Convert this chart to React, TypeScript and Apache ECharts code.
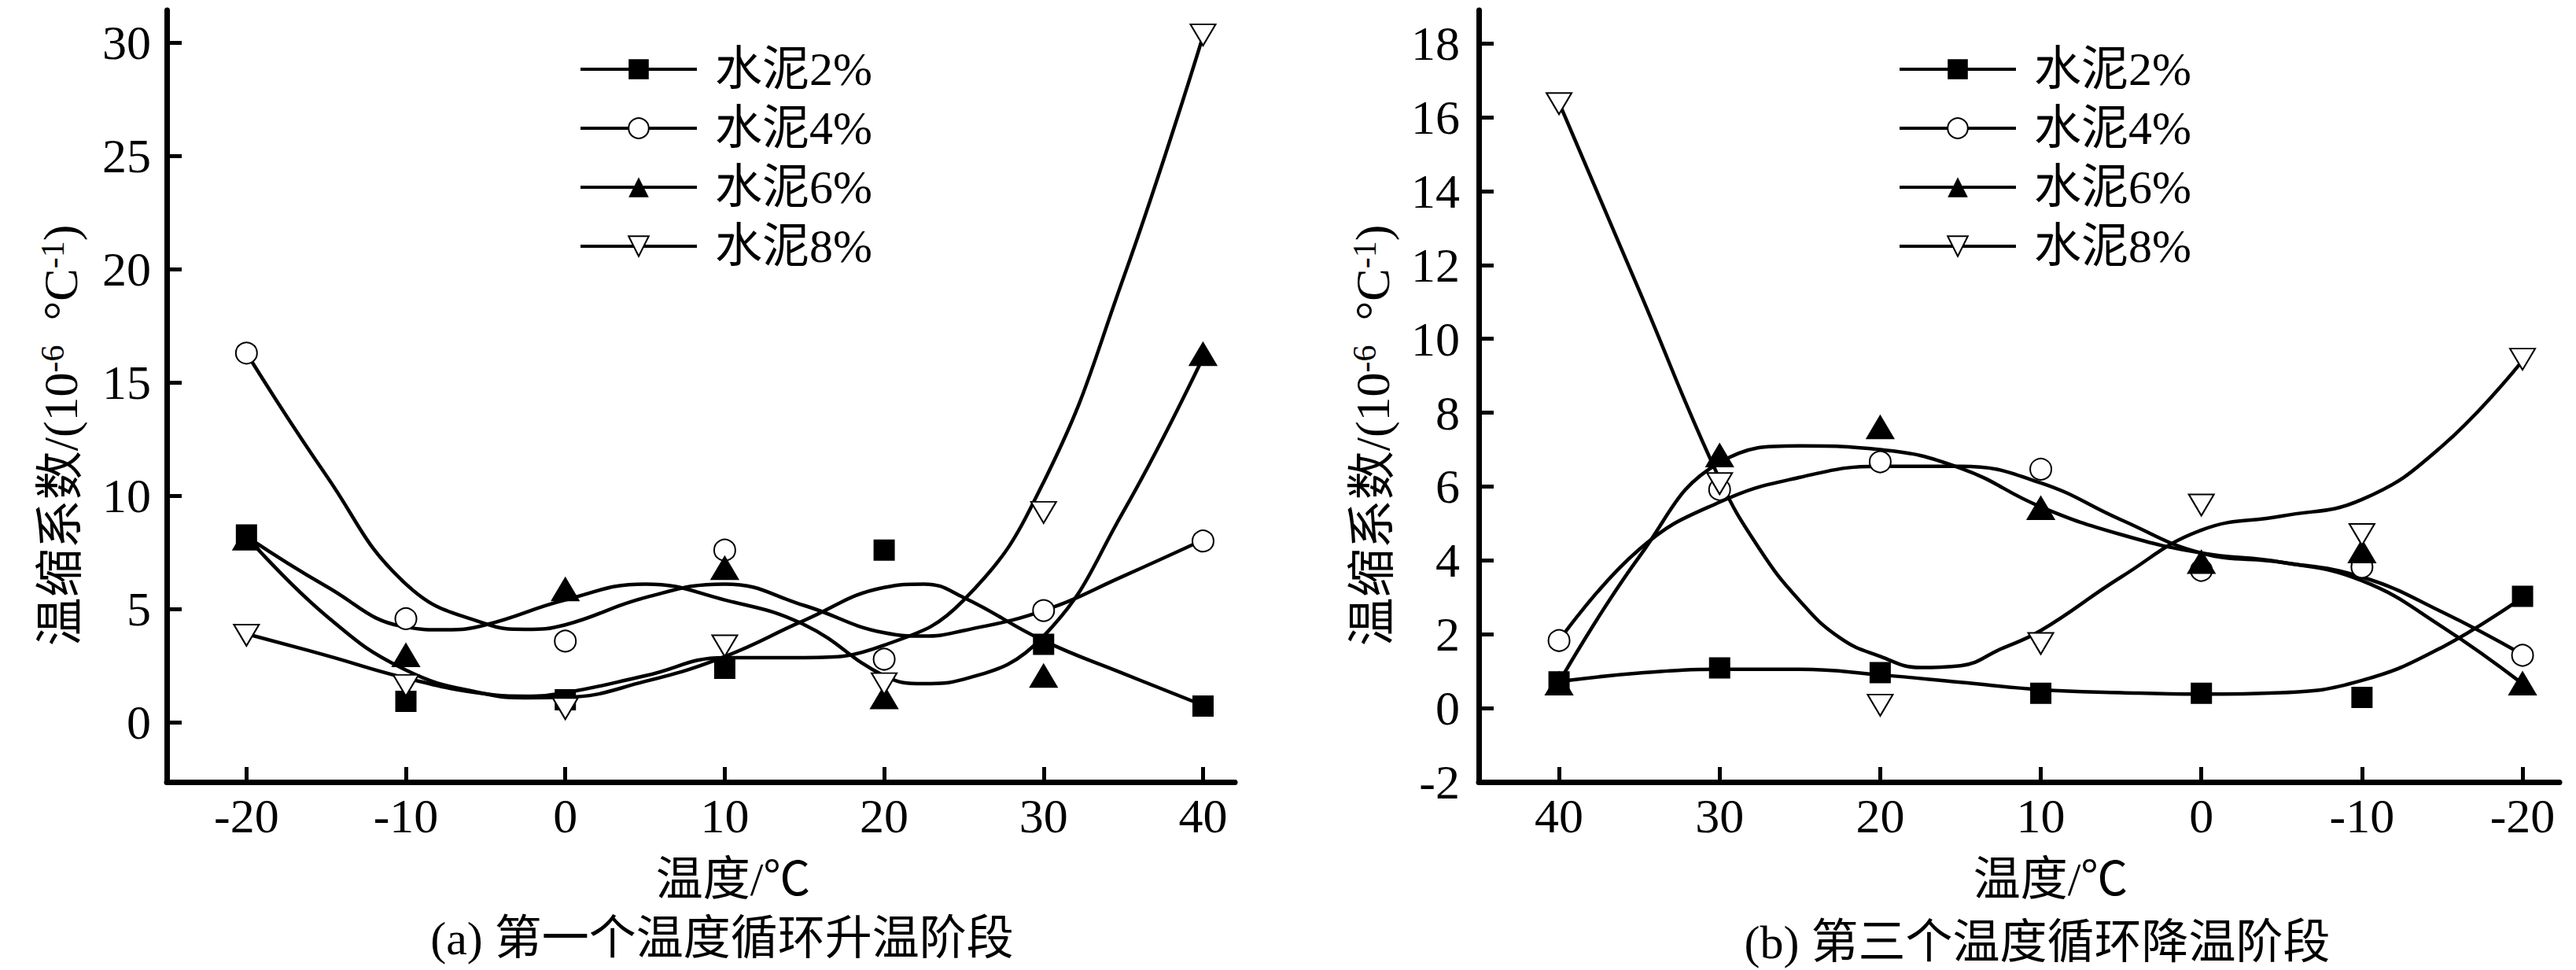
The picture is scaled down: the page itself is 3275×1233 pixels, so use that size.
import React, { useEffect, useRef } from 'react';
import * as echarts from 'echarts';

// ---------- Panel (a): first cycle, heating ----------
const tempsA = [-20, -10, 0, 10, 20, 30, 40];
const a2 = [8.27, 0.92, 0.99, 2.38, 7.6, 3.44, 0.71];
const a4 = [16.3, 4.57, 3.58, 7.6, 2.78, 4.93, 8.0];
const a6 = [8.1, 2.95, 5.86, 6.8, 1.09, 2.04, 16.25];
const a8 = [3.84, 1.62, 0.6, 3.37, 1.7, 9.26, 30.35];

// fitted curves
const fitXA2 = [-20, -15, -10, -5, -2.5, 0, 5, 10, 15, 20, 22.5, 25, 30, 35, 40];
const fitA2 = [8.2, 4.7, 2.3, 1.25, 1.08, 1.1, 1.8, 2.9, 4.5, 5.95, 6.1, 5.5, 3.6, 2.15, 0.75];
const fitXA4 = [-20, -15, -10, -5, -2.5, 0, 5, 10, 15, 20, 22.5, 25, 30, 35, 40];
const fitA4 = [16.3, 10.9, 6.1, 4.35, 4.1, 4.3, 5.5, 6.1, 5.15, 3.95, 3.8, 4.05, 4.93, 6.45, 8.05];
const fitXA6 = [-20, -15, -10, -7.5, -5, 0, 5, 10, 15, 20, 22.5, 25, 30, 35, 40];
const fitA6 = [8.2, 6.0, 4.2, 4.08, 4.3, 5.4, 6.1, 5.4, 4.3, 2.05, 1.7, 1.9, 3.8, 9.3, 16.1];
const fitXA8 = [-20, -15, -10, -5, -2.5, 0, 5, 10, 15, 20, 25, 30, 35, 40];
const fitA8 = [3.9, 2.95, 1.95, 1.25, 1.15, 1.3, 2.05, 2.85, 2.85, 3.4, 5.4, 10.6, 19.6, 30.3];

// ---------- Panel (b): third cycle, cooling ----------
const tempsB = [40, 30, 20, 10, 0, -10, -20];
const b2 = [0.71, 1.09, 0.96, 0.4, 0.4, 0.29, 3.03];
const b4 = [1.83, 5.92, 6.67, 6.47, 3.73, 3.82, 1.43];
const b6 = [0.66, 6.84, 7.6, 5.41, 3.95, 4.24, 0.66];
const b8 = [16.37, 6.08, 0.08, 1.75, 5.5, 4.7, 9.45];

const fitXB = [40, 35, 30, 25, 20, 15, 10, 5, 0, -5, -10, -15, -20];
const fitB2 = [0.72, 0.95, 1.05, 1.05, 0.9, 0.7, 0.5, 0.42, 0.38, 0.42, 0.75, 1.65, 3.0];
const fitB4 = [1.83, 4.3, 5.58, 6.25, 6.55, 6.55, 6.1, 5.1, 4.2, 3.95, 3.55, 2.6, 1.45];
const fitB6 = [0.7, 4.1, 6.65, 7.1, 7.0, 6.5, 5.45, 4.7, 4.2, 3.95, 3.45, 2.2, 0.66];
const fitXB8 = [40, 35, 30, 27.5, 25, 22.5, 20, 17.5, 15, 12.5, 10, 5, 0, -5, -10, -15, -20];
const fitB8 = [16.4, 11.3, 6.2, 4.3, 2.9, 1.9, 1.4, 1.1, 1.15, 1.6, 2.1, 3.55, 4.82, 5.2, 5.65, 7.1, 9.41];

// ---------- labels / ticks ----------
const seriesNames = ['水泥2%', '水泥4%', '水泥6%', '水泥8%'];
const xTicksA = [-20, -10, 0, 10, 20, 30, 40];
const yTicksA = [0, 5, 10, 15, 20, 25, 30];
const xTicksB = [40, 30, 20, 10, 0, -10, -20];
const yTicksB = [-2, 0, 2, 4, 6, 8, 10, 12, 14, 16, 18];
const xNameText = '温度/℃';
const yNameText = '温缩系数/(10{sup|-6}  °C{sup|-1})';
const captionA = '(a) 第一个温度循环升温阶段';
const captionB = '(b) 第三个温度循环降温阶段';

const FONT = 'Liberation Serif, Times New Roman, Noto Sans CJK SC, serif';

const zip = (xs: number[], ys: number[]) => xs.map((x, i) => [x, ys[i]]);

const markerSpecs = [
  { symbol: 'rect', size: 24 as any, rotate: 0 },
  { symbol: 'emptyCircle', size: 27 as any, rotate: 0 },
  { symbol: 'triangle', size: [32, 27] as any, rotate: 0 },
  { symbol: 'emptyTriangle', size: [32, 27] as any, rotate: 180 },
];

function buildOption() {
  const panels = [
    {
      xs: tempsA,
      pts: [a2, a4, a6, a8],
      fits: [
        [fitXA2, fitA2],
        [fitXA4, fitA4],
        [fitXA6, fitA6],
        [fitXA8, fitA8],
      ],
    },
    {
      xs: tempsB,
      pts: [b2, b4, b6, b8],
      fits: [
        [fitXB, fitB2],
        [fitXB, fitB4],
        [fitXB, fitB6],
        [fitXB8, fitB8],
      ],
    },
  ];

  const series: any[] = [];
  panels.forEach((p, pi) => {
    markerSpecs.forEach((m, si) => {
      series.push({
        type: 'line',
        name: seriesNames[si],
        xAxisIndex: pi,
        yAxisIndex: pi,
        data: zip(p.fits[si][0], p.fits[si][1]),
        smooth: 0.45,
        showSymbol: false,
        symbol: m.symbol,
        symbolRotate: m.rotate,
        lineStyle: { color: '#000', width: 4.5 },
        itemStyle: { color: '#000' },
        z: 2,
        silent: true,
      });
    });
  });
  panels.forEach((p, pi) => {
    markerSpecs.forEach((m, si) => {
      series.push({
        type: 'scatter',
        name: seriesNames[si],
        xAxisIndex: pi,
        yAxisIndex: pi,
        data: zip(p.xs, p.pts[si]),
        symbol: m.symbol,
        symbolSize: m.size,
        symbolRotate: m.rotate,
        itemStyle: { color: '#000', borderColor: '#000', borderWidth: 3, opacity: 1 },
        z: 3,
        silent: true,
      });
    });
  });

  const axisLine = { show: true, onZero: false, lineStyle: { color: '#000', width: 7 } };
  const axisTick = { show: true, inside: true, length: 19, lineStyle: { color: '#000', width: 5 } };
  const labelStyle = { fontFamily: FONT, fontSize: 62, color: '#000' };

  const xAxisCommon = (ticks: number[], min: number, max: number, inverse: boolean, gridIndex: number, shift: number) => ({
    type: 'value',
    gridIndex,
    min,
    max,
    inverse,
    splitNumber: 6,
    axisLine,
    axisTick: { ...axisTick, customValues: ticks },
    axisLabel: { ...labelStyle, margin: 12, customValues: ticks },
    splitLine: { show: false },
    name: xNameText,
    nameLocation: 'middle',
    nameGap: 94,
    nameTextStyle: { fontFamily: FONT, fontSize: 60, color: '#000', padding: [0, 0, 0, shift] },
  });

  const yAxisCommon = (ticks: number[], min: number, max: number, gridIndex: number, margin: number) => ({
    type: 'value',
    gridIndex,
    min,
    max,
    axisLine,
    axisTick: { ...axisTick, customValues: ticks },
    axisLabel: { ...labelStyle, margin, customValues: ticks },
    splitLine: { show: false },
    name: yNameText,
    nameLocation: 'middle',
    nameRotate: 90,
    nameGap: 104,
    nameTextStyle: {
      fontFamily: FONT,
      fontSize: 62,
      color: '#000',
      padding: [0, 100, 0, 0],
      rich: {
        sup: { fontFamily: FONT, fontSize: 42, color: '#000', verticalAlign: 'top' },
      },
    },
  });

  return {
    animation: false,
    backgroundColor: '#fff',
    textStyle: { fontFamily: FONT },
    grid: [
      { left: 212, top: 13, width: 1358, height: 981, containLabel: false },
      { left: 1880, top: 13, width: 1374, height: 981, containLabel: false },
    ],
    xAxis: [
      xAxisCommon(xTicksA, -25, 42, false, 0, 82),
      xAxisCommon(xTicksB, -22.3, 45, true, 1, 80),
    ],
    yAxis: [
      yAxisCommon(yTicksA, -2.64, 31.44, 0, 20),
      yAxisCommon(yTicksB, -2, 18.9, 1, 24),
    ],
    legend: [731, 2408].map((left) => ({
      orient: 'vertical',
      left,
      top: 53,
      itemWidth: 148,
      itemHeight: 32,
      itemGap: 15,
      selectedMode: false,
      data: seriesNames,
      lineStyle: { width: 4 },
      textStyle: { fontFamily: FONT, fontSize: 60, color: '#000', lineHeight: 60, padding: [0, 0, 0, 18] },
    })),
    graphic: [
      {
        type: 'text',
        x: 918,
        y: 1193,
        style: {
          text: captionA,
          fontFamily: FONT,
          fontSize: 60,
          fill: '#000',
          align: 'center',
          verticalAlign: 'middle',
        },
      },
      {
        type: 'text',
        x: 2590,
        y: 1198,
        style: {
          text: captionB,
          fontFamily: FONT,
          fontSize: 60,
          fill: '#000',
          align: 'center',
          verticalAlign: 'middle',
        },
      },
    ],
    series,
  };
}

export default function App() {
  const ref = useRef<HTMLDivElement>(null);
  useEffect(() => {
    if (!ref.current) return;
    const chart = echarts.init(ref.current, undefined, { renderer: 'svg' });
    chart.setOption(buildOption() as any);
    return () => {
      chart.dispose();
    };
  }, []);
  return (
    <div
      ref={ref}
      style={{
        position: 'fixed',
        left: 0,
        top: 0,
        width: 3275,
        height: 1233,
        background: '#fff',
        fontFamily: FONT,
      }}
    />
  );
}
